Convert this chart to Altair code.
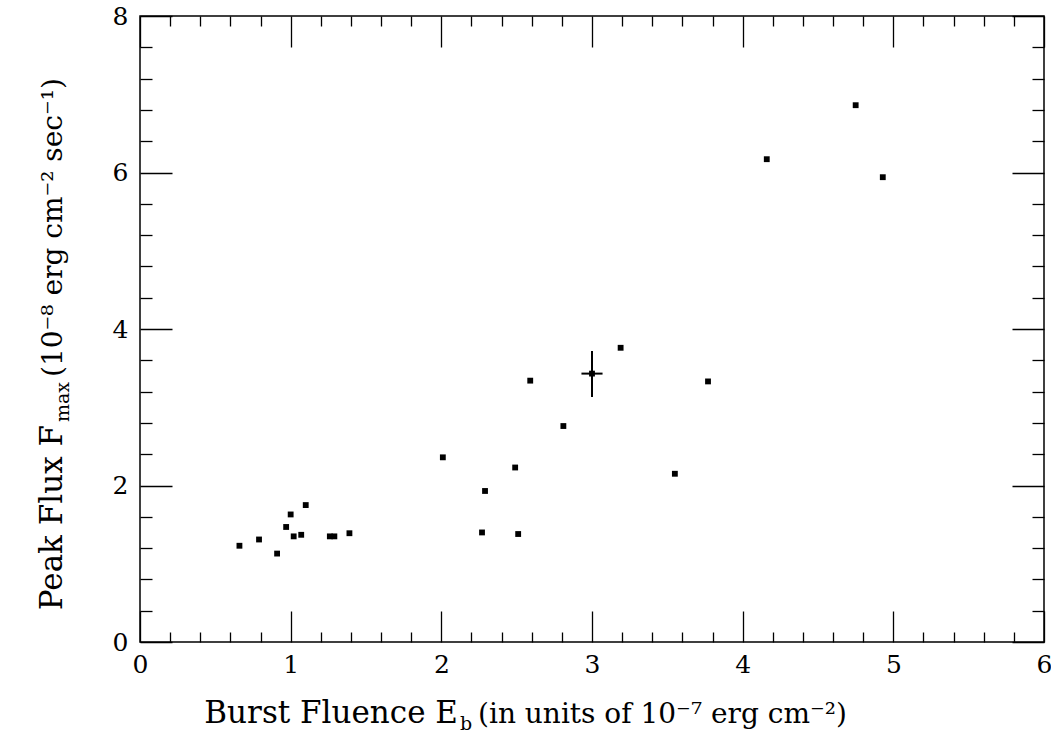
import altair as alt
import pandas as pd

# Burst fluence (1e-7 erg cm^-2) and peak flux (1e-8 erg cm^-2 s^-1)
fluence = [0.66, 0.79, 0.91, 0.97, 1.00, 1.02, 1.07, 1.10, 1.26, 1.29, 1.39,
           2.01, 2.27, 2.29, 2.49, 2.51, 2.59, 2.81, 3.00, 3.19, 3.55, 3.77,
           4.16, 4.75, 4.93]
peak = [1.23, 1.31, 1.13, 1.47, 1.63, 1.35, 1.37, 1.75, 1.35, 1.35, 1.39,
        2.36, 1.40, 1.93, 2.23, 1.38, 3.34, 2.76, 3.43, 3.76, 2.15, 3.33,
        6.17, 6.86, 5.94]

# representative error bar
err_x = [3.00]
err_y = [3.43]
err_y_lo = [3.13]
err_y_hi = [3.72]
err_x_lo = [2.93]
err_x_hi = [3.07]

x_major = [0, 1, 2, 3, 4, 5, 6]
x_minor = [round(i * 0.2, 1) for i in range(31) if i % 5 != 0]
y_major = [0, 2, 4, 6, 8]
y_minor = [round(i * 0.4, 1) for i in range(21) if i % 5 != 0]

df = pd.DataFrame({"E": fluence, "F": peak})
err = pd.DataFrame({"x": err_x, "y": err_y, "ylo": err_y_lo, "yhi": err_y_hi,
                    "xlo": err_x_lo, "xhi": err_x_hi})

FONT = "DejaVu Serif"
W, H = 904, 626
xs = alt.Scale(domain=[0, 6], nice=False, zero=False)
ys = alt.Scale(domain=[0, 8], nice=False, zero=False)


def tick_axis(orient, values, size):
    return alt.Axis(orient=orient, values=values, offset=-size, tickSize=size,
                    labels=False, domain=False, grid=False, title="",
                    tickColor="black", tickWidth=1.3)


points = alt.Chart(df).mark_square(size=34, color="black", opacity=1).encode(
    x=alt.X("E:Q", scale=xs, axis=alt.Axis(orient="bottom", values=x_major, ticks=False,
                                           domain=False, grid=False, title="",
                                           labelFont=FONT, labelFontSize=25, labelColor="black",
                                           labelPadding=10, labelFlush=False)),
    y=alt.Y("F:Q", scale=ys, axis=alt.Axis(orient="left", values=y_major, ticks=False,
                                           domain=False, grid=False, title="",
                                           labelFont=FONT, labelFontSize=25, labelColor="black",
                                           labelPadding=12, labelFlush=False)),
)


def ghost(xo, xv, xsz, yo, yv, ysz):
    return alt.Chart(df).mark_point(opacity=0).encode(
        x=alt.X("E:Q", scale=xs, axis=tick_axis(xo, xv, xsz)),
        y=alt.Y("F:Q", scale=ys, axis=tick_axis(yo, yv, ysz)),
    )


g1 = ghost("bottom", x_major, 31, "left", y_major, 32)
g2 = ghost("bottom", x_minor, 10, "left", y_minor, 12)
g3 = ghost("top", x_major, 31, "right", y_major, 32)
g4 = ghost("top", x_minor, 10, "right", y_minor, 12)

vbar = alt.Chart(err).mark_rule(color="black", strokeWidth=2).encode(
    x=alt.X("x:Q", scale=xs, axis=None),
    y=alt.Y("ylo:Q", scale=ys, axis=None),
    y2="yhi:Q",
)
hbar = alt.Chart(err).mark_rule(color="black", strokeWidth=2).encode(
    x=alt.X("xlo:Q", scale=xs, axis=None),
    x2="xhi:Q",
    y=alt.Y("y:Q", scale=ys, axis=None),
)


def label(text, x, y, size, align, angle=0):
    return alt.Chart(pd.DataFrame({"t": [text]})).mark_text(
        font=FONT, fontSize=size, color="black", align=align,
        baseline="alphabetic", angle=angle,
    ).encode(text="t:N", x=alt.value(x), y=alt.value(y))


xt1 = label("Burst Fluence E", 318, 707, 31, "right")
xt2 = label("b", 320, 714, 19, "left")
xt3 = label("(in units of 10\u207b\u2077 erg cm\u207b\u00b2)", 338, 707, 28, "left")

yt1 = label("Peak Flux F", -78, 409, 31, "right", 270)
yt2 = label("max", -71, 406, 19, "left", 270)
yt3 = label("(10\u207b\u2078 erg cm\u207b\u00b2 sec\u207b\u00b9)", -78, 361, 28, "left", 270)

chart = alt.layer(points, g1, g2, g3, g4, vbar, hbar,
                  xt1, xt2, xt3, yt1, yt2, yt3).resolve_axis(
    x="independent", y="independent"
).properties(
    width=W, height=H,
    autosize=alt.AutoSizeParams(type="none"),
    padding={"left": 140, "top": 16, "right": 7, "bottom": 109},
    background="white",
).configure_view(stroke="black", strokeWidth=1.5)

chart.save("out.html", embed_options={"renderer": "svg", "actions": False})
